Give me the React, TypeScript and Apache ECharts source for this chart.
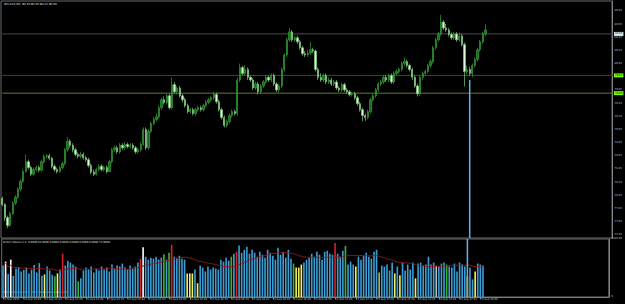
import React, { useEffect, useRef } from "react";
import * as echarts from "echarts";

const symbolTitle = "#CLX15,M1  80.50 80.65 80.47 80.56";
const volumeTitle = "Better Volume 1.4  0.0000 64.0000 0.0000 0.0000 0.0000 0.0000 0.0000 73.0000";
const copyrightText = "Better Volume 1.4 \u00a9 2011 www.emini-watch.com";

const firstOpen = 78.0;
const closes = [
  77.91, 77.71, 77.59, 77.77, 77.93, 78.02, 78.14, 78.26, 78.41, 78.56,
  78.47, 78.37, 78.44, 78.47, 78.43, 78.56, 78.64, 78.65, 78.61, 78.49,
  78.44, 78.41, 78.47, 78.53, 78.74, 78.87, 78.81, 78.74, 78.67, 78.64,
  78.67, 78.62, 78.59, 78.50, 78.40, 78.37, 78.44, 78.49, 78.44, 78.47,
  78.41, 78.56, 78.74, 78.77, 78.71, 78.81, 78.77, 78.82, 78.79, 78.81,
  78.77, 78.71, 78.74, 78.82, 79.05, 78.77, 79.02, 79.14, 79.20, 79.24,
  79.38, 79.50, 79.46, 79.56, 79.38, 79.73, 79.62, 79.68, 79.56, 79.50,
  79.41, 79.32, 79.35, 79.29, 79.35, 79.38, 79.35, 79.41, 79.46, 79.50,
  79.53, 79.58, 79.47, 79.35, 79.23, 79.11, 79.17, 79.26, 79.32, 79.29,
  79.80, 79.99, 79.90, 79.96, 79.84, 79.80, 79.68, 79.74, 79.62, 79.71,
  79.77, 79.84, 79.80, 79.87, 79.74, 79.65, 79.71, 79.96, 80.18, 80.41,
  80.53, 80.41, 80.44, 80.38, 80.29, 80.20, 80.18, 80.21, 80.26, 80.24,
  79.96, 79.84, 79.80, 79.87, 79.77, 79.80, 79.74, 79.77, 79.68, 79.65,
  79.73, 79.65, 79.62, 79.58, 79.59, 79.53, 79.44, 79.35, 79.26, 79.23,
  79.32, 79.50, 79.56, 79.65, 79.74, 79.77, 79.84, 79.80, 79.87, 79.77,
  79.90, 79.93, 79.96, 80.05, 80.08, 80.02, 79.96, 79.84, 79.71, 79.59,
  79.84, 79.90, 79.93, 80.02, 80.08, 80.29, 80.41, 80.50, 80.68, 80.59,
  80.56, 80.49, 80.44, 80.50, 80.41, 80.47, 80.34, 79.93, 79.96, 79.90,
  80.02, 80.11, 80.26, 80.38, 80.50, 80.56,
];
const highs = [
  78.03, 77.93, 77.74, 77.80, 77.96, 78.05, 78.17, 78.29, 78.44, 78.67,
  78.59, 78.50, 78.47, 78.50, 78.50, 78.59, 78.67, 78.68, 78.68, 78.63,
  78.52, 78.47, 78.50, 78.56, 78.77, 78.93, 78.90, 78.84, 78.77, 78.70,
  78.71, 78.70, 78.65, 78.62, 78.53, 78.44, 78.47, 78.52, 78.52, 78.50,
  78.50, 78.59, 78.77, 78.81, 78.80, 78.84, 78.84, 78.86, 78.85, 78.84,
  78.84, 78.80, 78.77, 78.85, 79.08, 79.08, 79.05, 79.17, 79.24, 79.29,
  79.41, 79.53, 79.55, 79.59, 79.59, 79.84, 79.77, 79.71, 79.71, 79.59,
  79.53, 79.44, 79.38, 79.38, 79.38, 79.41, 79.41, 79.44, 79.50, 79.53,
  79.56, 79.62, 79.61, 79.50, 79.38, 79.26, 79.20, 79.29, 79.35, 79.35,
  79.84, 80.05, 80.02, 80.02, 79.99, 79.87, 79.83, 79.77, 79.77, 79.74,
  79.80, 79.87, 79.87, 79.90, 79.90, 79.77, 79.74, 79.99, 80.21, 80.44,
  80.59, 80.56, 80.47, 80.47, 80.41, 80.32, 80.24, 80.26, 80.38, 80.29,
  80.26, 79.99, 79.90, 79.90, 79.90, 79.84, 79.83, 79.80, 79.80, 79.71,
  79.76, 79.76, 79.68, 79.65, 79.62, 79.62, 79.56, 79.47, 79.38, 79.29,
  79.35, 79.53, 79.59, 79.68, 79.77, 79.80, 79.87, 79.87, 79.90, 79.90,
  79.93, 79.96, 79.99, 80.08, 80.14, 80.11, 80.05, 79.99, 79.87, 79.74,
  79.87, 79.93, 79.96, 80.05, 80.11, 80.32, 80.44, 80.53, 80.79, 80.71,
  80.65, 80.59, 80.52, 80.53, 80.53, 80.52, 80.50, 80.37, 80.02, 80.00,
  80.05, 80.14, 80.29, 80.41, 80.53, 80.65,
];
const lows = [
  77.88, 77.66, 77.55, 77.57, 77.75, 77.90, 78.00, 78.11, 78.24, 78.39,
  78.44, 78.34, 78.35, 78.41, 78.40, 78.41, 78.53, 78.61, 78.58, 78.46,
  78.41, 78.38, 78.39, 78.44, 78.50, 78.71, 78.77, 78.70, 78.64, 78.61,
  78.61, 78.59, 78.56, 78.47, 78.37, 78.34, 78.35, 78.41, 78.41, 78.41,
  78.38, 78.40, 78.53, 78.71, 78.68, 78.68, 78.74, 78.74, 78.76, 78.76,
  78.74, 78.68, 78.68, 78.71, 78.80, 78.74, 78.74, 78.99, 79.11, 79.17,
  79.21, 79.35, 79.43, 79.43, 79.35, 79.35, 79.59, 79.58, 79.53, 79.46,
  79.38, 79.29, 79.29, 79.26, 79.26, 79.32, 79.32, 79.32, 79.38, 79.43,
  79.47, 79.50, 79.44, 79.32, 79.20, 79.08, 79.08, 79.14, 79.23, 79.26,
  79.26, 79.77, 79.87, 79.87, 79.80, 79.77, 79.65, 79.65, 79.58, 79.59,
  79.68, 79.74, 79.77, 79.77, 79.71, 79.62, 79.61, 79.68, 79.93, 80.15,
  80.38, 80.38, 80.38, 80.35, 80.26, 80.17, 80.15, 80.15, 80.18, 80.21,
  79.93, 79.80, 79.77, 79.77, 79.74, 79.74, 79.71, 79.71, 79.65, 79.62,
  79.62, 79.62, 79.59, 79.55, 79.55, 79.50, 79.41, 79.32, 79.17, 79.18,
  79.20, 79.29, 79.47, 79.53, 79.62, 79.71, 79.74, 79.77, 79.77, 79.74,
  79.74, 79.87, 79.90, 79.93, 80.02, 79.99, 79.93, 79.80, 79.68, 79.55,
  79.56, 79.80, 79.87, 79.90, 79.99, 80.05, 80.26, 80.38, 80.47, 80.56,
  80.53, 80.46, 80.41, 80.41, 80.38, 80.38, 80.31, 79.70, 79.88, 79.86,
  79.84, 79.99, 80.08, 80.23, 80.35, 80.47,
];
const volumes = [
  640, 720, 470, 760, 430, 580, 610, 520, 550, 600,
  480, 560, 650, 500, 690, 430, 460, 620, 540, 450,
  420, 480, 560, 880, 640, 740, 700, 660, 620, 320,
  380, 540, 600, 560, 620, 500, 580, 540, 620, 560,
  600, 520, 660, 580, 640, 620, 680, 600, 560, 640,
  580, 620, 700, 780, 1010, 820, 760, 800, 780, 820,
  760, 800, 870, 760, 900, 1060, 820, 800, 840, 780,
  760, 480, 480, 480, 560, 280, 640, 600, 520, 620,
  560, 600, 580, 560, 760, 720, 800, 740, 820, 880,
  920, 1050, 900, 960, 1020, 880, 960, 900, 820, 920,
  860, 800, 960, 900, 840, 760, 1000, 860, 920, 800,
  960, 780, 680, 600, 600, 660, 700, 760, 800, 880,
  820, 920, 860, 760, 920, 940, 880, 860, 1100, 880,
  820, 940, 1040, 660, 720, 660, 620, 820, 760, 840,
  900, 820, 780, 920, 960, 500, 640, 620, 660, 540,
  700, 480, 620, 440, 700, 540, 660, 560, 700, 380,
  680, 700, 640, 660, 820, 660, 700, 640, 620, 680,
  700, 660, 620, 600, 680, 520, 700, 660, 620, 420,
  600, 360, 520, 680, 660, 640,
];
// Better Volume bar classes (index lists)
const climaxUpBars = [23, 53, 65, 90, 128];
const climaxDownBars = [1, 3, 54];
const churnBars = [20, 29, 62, 64, 88, 112, 132, 171];
const lowVolumeBars = [16, 21, 71, 72, 73, 75, 113, 114, 115, 136, 151, 153, 159, 179, 182];
const churnLowBars = [145];
const neutralBars = [167];

const timeLabels = [
  "23 Sep 2015", "23 Sep 15:04", "23 Sep 15:12", "23 Sep 15:20", "23 Sep 15:28", "23 Sep 15:36",
  "23 Sep 15:44", "23 Sep 15:52", "23 Sep 16:00", "23 Sep 16:08", "23 Sep 16:16", "23 Sep 16:24",
  "23 Sep 16:32", "23 Sep 16:40", "23 Sep 16:48", "23 Sep 16:56", "23 Sep 17:04", "23 Sep 17:12",
  "23 Sep 17:20", "23 Sep 17:28", "23 Sep 17:36", "23 Sep 17:44", "23 Sep 17:52", "23 Sep 18:00",
];
const labelEvery = 8;
const totalSlots = 234;
const levelLines = [80.5, 79.87, 79.6];
const cursorIndex = 179;
const cursorPrice = 79.8;
const maPeriod = 20;

export default function App() {
  const ref = useRef<HTMLDivElement>(null);
  useEffect(() => {
    document.body.style.margin = "0";
    document.body.style.background = "#000";
    if (!ref.current) return;
    const chart = echarts.init(ref.current, null, { renderer: "svg" });
    const cats = Array.from({ length: totalSlots }, (_, i) => String(i));
    const candles = closes.map((c, i) => [i === 0 ? firstOpen : closes[i - 1], c, lows[i], highs[i]]);
    const colorOf = (i: number) => {
      if (climaxUpBars.includes(i)) return "#d42424";
      if (climaxDownBars.includes(i)) return "#ffffff";
      if (churnBars.includes(i)) return "#3fb236";
      if (lowVolumeBars.includes(i)) return "#f2f266";
      if (churnLowBars.includes(i)) return "#b4b462";
      if (neutralBars.includes(i)) return "#bdbdbd";
      return "#3e9dd4";
    };
    const volData = volumes.map((v, i) => ({ value: v, itemStyle: { color: colorOf(i) } }));
    const ma = volumes.map((_, i) => {
      const s = Math.max(0, i - maPeriod + 1);
      const w = volumes.slice(s, i + 1);
      return w.reduce((a, b) => a + b, 0) / w.length;
    });
    const lvlColors = ["#4a4a52", "#32502a", "#5f7d26"];
    const lvlBg = ["#e8e8e8", "#7cfc00", "#7cfc00"];
    const labelShow = (idx: number) => idx % labelEvery === 0 && idx / labelEvery < timeLabels.length;
    const txt = "#c8c8c8";
    const levelSeries = levelLines.map((v, k) => ({
      type: "line", xAxisIndex: 0, yAxisIndex: 0, silent: true, z: 1,
      data: [[-0.5, v], [totalSlots - 0.5, v]],
      symbol: "none",
      lineStyle: { color: lvlColors[k], width: 1 },
      itemStyle: { color: lvlColors[k] },
      endLabel: {
        show: true, distance: 1, formatter: v.toFixed(2), fontSize: 2.6, color: "#000",
        backgroundColor: lvlBg[k], padding: [0.5, 1], fontFamily: "DejaVu Sans",
      },
    }));
    chart.setOption({
      animation: false,
      backgroundColor: "#000",
      grid: [
        { left: 1, right: 13, top: 1, height: 237, show: true, borderColor: "#6a6a6a", borderWidth: 1, backgroundColor: "#000" },
        { left: 1, right: 13, top: 239, height: 58, show: true, borderColor: "#6a6a6a", borderWidth: 1, backgroundColor: "#000" },
      ],
      xAxis: [
        { type: "category", gridIndex: 0, data: cats, show: false, boundaryGap: true },
        {
          type: "category", gridIndex: 1, data: cats, boundaryGap: true,
          axisLine: { lineStyle: { color: "#808080" } },
          axisTick: { show: true, interval: (idx: number) => labelShow(idx), alignWithLabel: true, length: 2, lineStyle: { color: "#808080" } },
          axisLabel: {
            interval: (idx: number) => labelShow(idx),
            formatter: (_v: string, idx: number) => timeLabels[idx / labelEvery] ?? "",
            align: "left", fontSize: 2.6, color: txt, margin: 1.5, fontFamily: "DejaVu Sans",
          },
          splitLine: { show: false },
        },
      ],
      yAxis: [
        {
          type: "value", gridIndex: 0, position: "right", min: 77.4, max: 81.0, interval: 0.05, scale: true,
          axisLine: { show: true, lineStyle: { color: "#808080" } },
          axisTick: { show: false },
          splitLine: { show: false },
          axisLabel: {
            fontSize: 2.6, color: txt, margin: 2.5, fontFamily: "DejaVu Sans",
            formatter: (v: number) => (Math.round(v * 100) % 20 === 5 ? v.toFixed(2) : ""),
          },
        },
        {
          type: "value", gridIndex: 1, position: "right", min: 0, max: 1180, interval: 1180,
          axisLine: { show: true, lineStyle: { color: "#808080" } },
          axisTick: { show: false },
          splitLine: { show: false },
          axisLabel: { fontSize: 2.6, color: txt, margin: 2.5, fontFamily: "DejaVu Sans", formatter: (v: number) => (v === 0 ? "0" : v.toFixed(2)) },
        },
      ],
      series: [
        ...levelSeries,
        {
          type: "candlestick", xAxisIndex: 0, yAxisIndex: 0, data: candles, barWidth: "72%", z: 3,
          itemStyle: { color: "#1b6a1b", color0: "#e2f7da", borderColor: "#33a033", borderColor0: "#79c979", borderWidth: 0.7 },
        },
        {
          type: "line", xAxisIndex: 0, yAxisIndex: 0, data: [[cursorIndex, cursorPrice], [cursorIndex, 77.4]],
          symbol: "none", lineStyle: { color: "#5ab2f0", width: 1.5 }, silent: true,
        },
        { type: "bar", xAxisIndex: 1, yAxisIndex: 1, data: volData, barWidth: "62%" },
        {
          type: "line", xAxisIndex: 1, yAxisIndex: 1, data: ma, symbol: "none", smooth: true,
          lineStyle: { color: "#8e1a1a", width: 1 }, silent: true,
        },
        {
          type: "line", xAxisIndex: 1, yAxisIndex: 1, data: [[cursorIndex, 0], [cursorIndex, 1180]],
          symbol: "none", lineStyle: { color: "#5ab2f0", width: 1.5 }, silent: true,
        },
      ],
      graphic: [
        { type: "text", left: 4, top: 2.5, style: { text: symbolTitle, fill: "#e0e0e0", fontSize: 2.8, fontFamily: "DejaVu Sans" } },
        { type: "text", left: 3, top: 241, style: { text: volumeTitle, fill: "#e0e0e0", fontSize: 2.6, fontFamily: "DejaVu Sans" } },
        { type: "text", left: 3, top: 291.5, style: { text: copyrightText, fill: "#d0d0d0", fontSize: 2.6, fontFamily: "DejaVu Sans" } },
      ],
    });
    return () => chart.dispose();
  }, []);
  return <div ref={ref} style={{ width: 625, height: 304, position: "absolute", left: 0, top: 0 }} />;
}
